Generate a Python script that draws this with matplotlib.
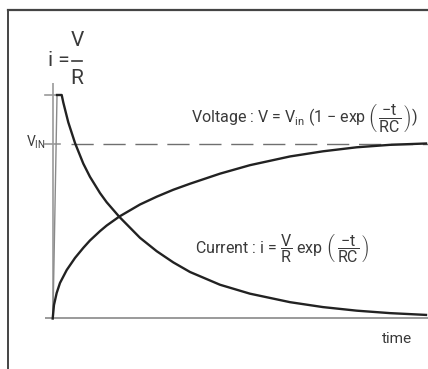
import matplotlib
matplotlib.use("Agg")
import matplotlib.pyplot as plt
from matplotlib.lines import Line2D

plt.rcParams['font.family'] = ['Roboto', 'DejaVu Sans']
plt.rcParams['mathtext.fontset'] = 'custom'
plt.rcParams['mathtext.rm'] = 'Roboto'
plt.rcParams['mathtext.it'] = 'Roboto'
plt.rcParams['mathtext.sf'] = 'Roboto'

# time in units of RC and values relative to the peak current
t_volt = [0.0, 0.014, 0.044, 0.081, 0.156, 0.248, 0.340, 0.414, 0.526, 0.600, 0.740,
          0.970, 1.156, 1.340, 1.526, 1.859, 2.192, 2.637, 3.003, 3.378, 3.748, 4.148]
v_volt = [0.0, 0.060, 0.114, 0.159, 0.217, 0.271, 0.316, 0.349, 0.391, 0.416, 0.456,
          0.510, 0.545, 0.576, 0.603, 0.648, 0.686, 0.725, 0.748, 0.766, 0.777, 0.783]

t_curr = [0.048, 0.100, 0.118, 0.173, 0.248, 0.340, 0.414, 0.526, 0.600, 0.740, 0.970,
          1.156, 1.340, 1.526, 1.859, 2.192, 2.637, 3.003, 3.378, 3.748, 4.148]
i_curr = [1.0, 1.0, 0.966, 0.878, 0.785, 0.693, 0.634, 0.561, 0.520, 0.455, 0.361,
          0.301, 0.251, 0.208, 0.151, 0.111, 0.073, 0.051, 0.035, 0.024, 0.016]

t_jump = [0.003, 0.048]
i_jump = [0.0, 1.0]

v_in = 0.781
i_peak = 1.0

W, H = 428, 369
fig = plt.figure(figsize=(W / 100, H / 100), dpi=100)
ax = fig.add_axes([0, 0, 1, 1])
ax.set_xlim(-0.5856, 4.1704)
ax.set_ylim(-0.226, 1.425)
ax.axis('off')

def px(x, y):
    return x / W, 1 - y / H

# frame (only top and left edges show in the crop)
fig.add_artist(Line2D([px(8, 0)[0], 1.0], [px(0, 9.5)[1]] * 2, color='#444444', lw=1.6))
fig.add_artist(Line2D([px(8, 0)[0]] * 2, [0.0, px(0, 9.5)[1]], color='#444444', lw=1.4))

axcol = '#9a9a9a'
ax.plot([-0.086, 4.2], [0, 0], color=axcol, lw=1.4, solid_capstyle='butt')
ax.plot([0, 0], [0, 1.054], color=axcol, lw=1.2, solid_capstyle='butt')
ax.plot([-0.086, 0.06], [i_peak, i_peak], color=axcol, lw=1.2)
ax.plot([-0.086, 0.08], [v_in, v_in], color=axcol, lw=1.2)
dash, = ax.plot([0.2, 4.2], [v_in, v_in], color='#6f6f6f', lw=1.0)
dash.set_dashes((16, 7))

ax.plot(t_jump, i_jump, color='#8a8a8a', lw=1.0)
ax.plot(t_curr, i_curr, color='#222222', lw=1.7, solid_joinstyle='round')
ax.plot(t_volt, v_volt, color='#222222', lw=1.7, solid_joinstyle='round')

tc = '#3a3a3a'
# i = V / R
fig.text(*px(48, 61), 'i =', fontsize=15, color=tc, va='center', ha='left')
fig.text(*px(77, 40), 'V', fontsize=15, color=tc, va='center', ha='center')
fig.text(*px(77, 79), 'R', fontsize=15, color=tc, va='center', ha='center')
fig.add_artist(Line2D([px(72, 0)[0], px(82, 0)[0]], [px(0, 61)[1]] * 2, color=tc, lw=1.2))

fig.text(*px(46, 142), r'V$_{\mathrm{IN}}$', fontsize=10, color=tc, va='center', ha='right')
fig.text(*px(191, 118),
         r'Voltage : V = V$_{\mathrm{in}}$ (1 $-$ exp$\,\left(\,\dfrac{-t}{RC}\,\right)$)',
         fontsize=11.5, color=tc, va='center', ha='left')
fig.text(*px(195, 249),
         r'Current : i = $\dfrac{V}{R}$ exp $\left(\,\dfrac{-t}{RC}\,\right)$',
         fontsize=11.5, color=tc, va='center', ha='left')
fig.text(*px(397, 339), 'time', fontsize=11, color=tc, va='center', ha='center')

fig.savefig('out.png', dpi=100)
